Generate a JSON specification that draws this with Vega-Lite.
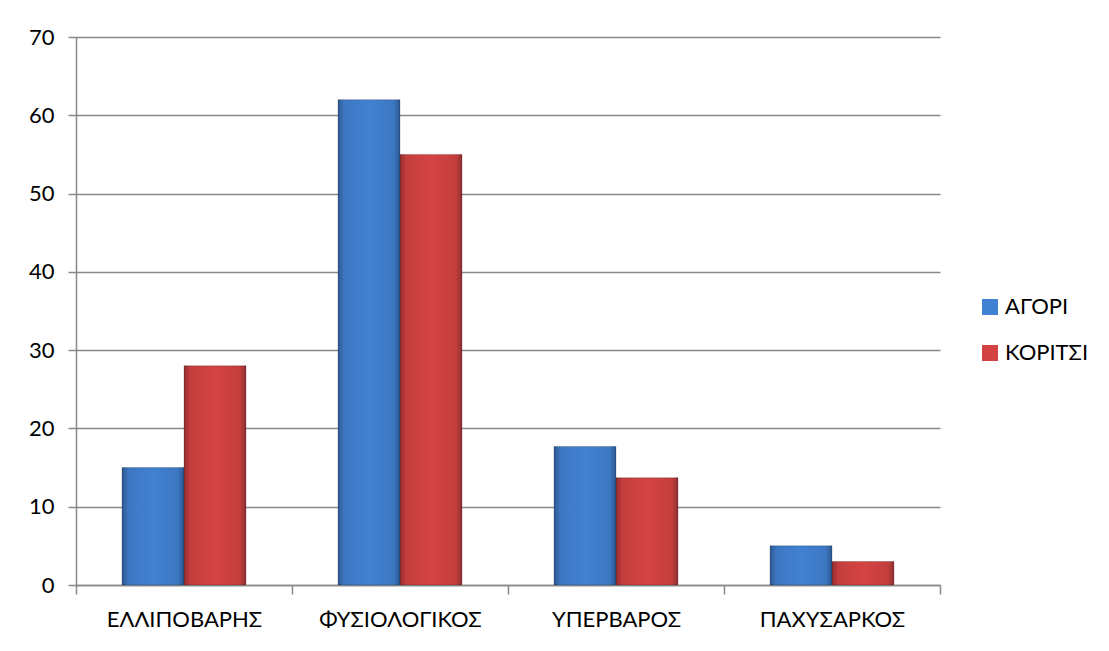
{
  "$schema": "https://vega.github.io/schema/vega-lite/v6.json",
  "autosize": "none",
  "width": 864,
  "height": 548,
  "padding": {"left": 76, "top": 37, "right": 169, "bottom": 66},
  "background": "white",
  "data": {
    "values": [
      {"category": "ΕΛΛΙΠΟΒΑΡΗΣ", "group": "ΑΓΟΡΙ", "value": 15},
      {"category": "ΕΛΛΙΠΟΒΑΡΗΣ", "group": "ΚΟΡΙΤΣΙ", "value": 28},
      {"category": "ΦΥΣΙΟΛΟΓΙΚΟΣ", "group": "ΑΓΟΡΙ", "value": 62},
      {"category": "ΦΥΣΙΟΛΟΓΙΚΟΣ", "group": "ΚΟΡΙΤΣΙ", "value": 55},
      {"category": "ΥΠΕΡΒΑΡΟΣ", "group": "ΑΓΟΡΙ", "value": 17.7},
      {"category": "ΥΠΕΡΒΑΡΟΣ", "group": "ΚΟΡΙΤΣΙ", "value": 13.7},
      {"category": "ΠΑΧΥΣΑΡΚΟΣ", "group": "ΑΓΟΡΙ", "value": 5},
      {"category": "ΠΑΧΥΣΑΡΚΟΣ", "group": "ΚΟΡΙΤΣΙ", "value": 3}
    ]
  },
  "encoding": {
    "x": {
      "field": "category",
      "type": "nominal",
      "sort": null,
      "title": null,
      "scale": {"paddingInner": 0, "paddingOuter": 0},
      "axis": {
        "tickBand": "extent",
        "labelAngle": 0,
        "labelFontSize": 22,
        "labelPadding": 15,
        "tickSize": 9,
        "tickColor": "#888888",
        "tickWidth": 1.5,
        "domainColor": "#888888",
        "domainWidth": 1.5,
        "labelColor": "#000000"
      }
    },
    "xOffset": {
      "field": "group",
      "type": "nominal",
      "scale": {"paddingInner": 0, "paddingOuter": 0.742}
    },
    "y": {
      "field": "value",
      "type": "quantitative",
      "title": null,
      "scale": {"domain": [0, 70]},
      "axis": {
        "values": [0, 10, 20, 30, 40, 50, 60, 70],
        "grid": true,
        "gridColor": "#888888",
        "gridWidth": 1.5,
        "tickSize": 8,
        "tickColor": "#888888",
        "tickWidth": 1.5,
        "domainColor": "#888888",
        "domainWidth": 1.5,
        "labelFontSize": 22,
        "labelPadding": 14,
        "labelColor": "#000000"
      }
    }
  },
  "layer": [
    {
      "mark": {"type": "bar", "stroke": "#00000040", "strokeWidth": 0.8},
      "encoding": {
        "color": {
          "field": "group",
          "type": "nominal",
          "title": null,
          "scale": {"domain": ["ΑΓΟΡΙ", "ΚΟΡΙΤΣΙ"], "range": ["#4181d2", "#d44343"]},
          "legend": {
            "orient": "none",
            "legendX": 903,
            "legendY": 259,
            "symbolType": "square",
            "symbolSize": 256,
            "symbolStrokeWidth": 0,
            "symbolOpacity": 1,
            "labelFontSize": 22,
            "labelColor": "#000000",
            "labelOffset": 4,
            "rowPadding": 24
          }
        }
      }
    },
    {
      "mark": {
        "type": "bar",
        "fill": {
          "gradient": "linear",
          "x1": 0, "y1": 0, "x2": 1, "y2": 0,
          "stops": [
            {"offset": 0, "color": "rgba(0,0,0,0.32)"},
            {"offset": 0.1, "color": "rgba(0,0,0,0.08)"},
            {"offset": 0.5, "color": "rgba(0,0,0,0)"},
            {"offset": 0.9, "color": "rgba(0,0,0,0.08)"},
            {"offset": 1, "color": "rgba(0,0,0,0.32)"}
          ]
        }
      }
    }
  ],
  "config": {
    "font": "Lato",
    "view": {"stroke": null},
    "axis": {"labelFont": "Lato"},
    "legend": {"labelFont": "Lato"}
  }
}
